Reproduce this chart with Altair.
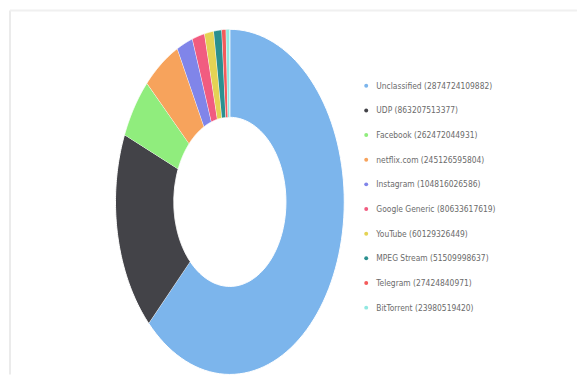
import altair as alt
import pandas as pd

categories = ["Unclassified", "UDP", "Facebook", "netflix.com", "Instagram",
              "Google Generic", "YouTube", "MPEG Stream", "Telegram", "BitTorrent"]
values = [2874724109882, 863207513377, 262472044931, 245126595804, 104816026586,
          80633617619, 60129326449, 51509998637, 27424840971, 23980519420]
colors = ["#7cb5ec", "#434348", "#90ed7d", "#f7a35c", "#8085e9",
          "#f15c80", "#e4d354", "#2b908f", "#f45b5b", "#91e8e1"]

labels = [f"{c} ({v})" for c, v in zip(categories, values)]
df = pd.DataFrame({"category": categories, "value": values,
                   "label": labels, "order": list(range(len(categories)))})

N = 90          # points per arc edge
INNER = 0.49    # inner radius relative to outer

W, H = 575, 369
RX, RY = 116, 175
CX, CY = 223, 194
xdom = [-CX / RX, (W - CX) / RX]
ydom = [-(H - CY) / RY, CY / RY]

donut = (
    alt.Chart(df)
    .transform_joinaggregate(total="sum(value)")
    .transform_window(cum="sum(value)", sort=[alt.SortField("order")], frame=[None, 0])
    .transform_calculate(
        a1="2*PI*datum.cum/datum.total",
        a0="2*PI*(datum.cum-datum.value)/datum.total",
    )
    .transform_calculate(k=f"sequence(0, {2 * N + 2})")
    .transform_flatten(["k"])
    .transform_calculate(
        t=f"datum.k <= {N} ? datum.a0 + (datum.a1-datum.a0)*datum.k/{N} : datum.a1 - (datum.a1-datum.a0)*(datum.k-{N + 1})/{N}",
        r=f"datum.k <= {N} ? 1 : {INNER}",
    )
    .transform_calculate(px="datum.r*sin(datum.t)", py="datum.r*cos(datum.t)")
    .mark_line(filled=True, stroke="white", strokeWidth=1, strokeJoin="round")
    .encode(
        x=alt.X("px:Q", scale=alt.Scale(domain=xdom, nice=False, zero=False), axis=None),
        y=alt.Y("py:Q", scale=alt.Scale(domain=ydom, nice=False, zero=False), axis=None),
        color=alt.Color(
            "label:N",
            scale=alt.Scale(domain=labels, range=colors),
            legend=alt.Legend(
                title=None, orient="none", legendX=357, legendY=72,
                symbolType="circle", symbolSize=16, symbolStrokeWidth=0,
                labelFont="DejaVu Sans Condensed, Liberation Sans, sans-serif",
                labelFontSize=8.5,
                labelColor="#6b6b6b", labelOffset=6, rowPadding=16,
                padding=0, labelLimit=300,
            ),
        ),
        order=alt.Order("k:Q"),
    )
)

edge = pd.DataFrame({"e": [0]})
left_edge = alt.Chart(edge).mark_rule(color="#ebebeb", strokeWidth=2).encode(
    x=alt.value(0), y=alt.value(0), y2=alt.value(H))
top_edge = alt.Chart(edge).mark_rule(color="#f0f0f0", strokeWidth=2).encode(
    x=alt.value(0), x2=alt.value(W), y=alt.value(0))

chart = (
    alt.layer(left_edge, top_edge, donut)
    .properties(width=W, height=H, autosize=alt.AutoSizeParams(type="none"),
                padding={"left": 2, "top": 0, "right": 0, "bottom": 0},
                background="white")
    .configure_view(stroke=None)
)

chart.save("out.html", embed_options={"renderer": "svg", "actions": False})
